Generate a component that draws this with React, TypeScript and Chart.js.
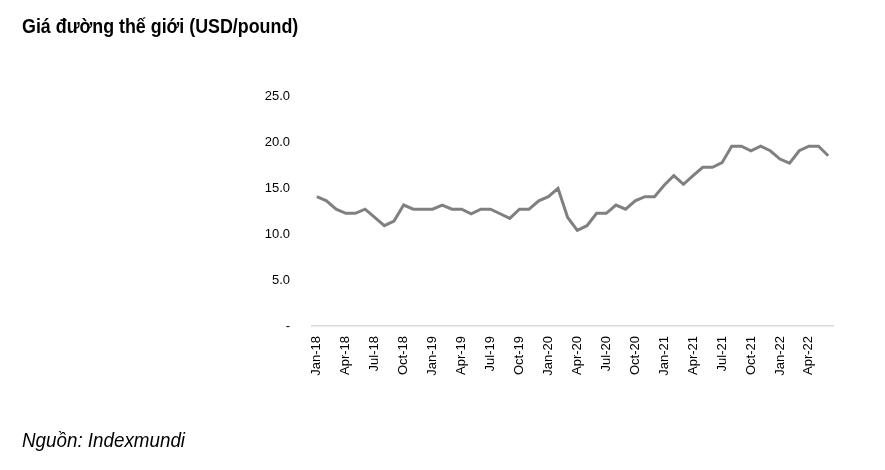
import React, { useEffect, useRef } from "react";
import { Chart, registerables } from "chart.js";

Chart.register(...registerables);

const months = ["Jan", "Feb", "Mar", "Apr", "May", "Jun", "Jul", "Aug", "Sep", "Oct", "Nov", "Dec"];
const years = ["18", "19", "20", "21", "22"];
const categories: string[] = [];
years.forEach((y) => months.forEach((m) => categories.push(`${m}-${y}`)));
const labels = categories.slice(0, 54);

const prices2018 = [14.05, 13.6, 12.7, 12.25, 12.25, 12.7, 11.8, 10.9, 11.4, 13.15, 12.7, 12.7];
const prices2019 = [12.7, 13.15, 12.7, 12.7, 12.2, 12.7, 12.7, 12.2, 11.7, 12.7, 12.7, 13.6];
const prices2020 = [14.05, 14.95, 11.8, 10.4, 10.9, 12.25, 12.25, 13.15, 12.7, 13.6, 14.05, 14.05];
const prices2021 = [15.3, 16.35, 15.4, 16.35, 17.25, 17.25, 17.75, 19.55, 19.55, 19.05, 19.55, 19.05];
const prices2022 = [18.15, 17.7, 19.05, 19.55, 19.55, 18.5];
const prices = [...prices2018, ...prices2019, ...prices2020, ...prices2021, ...prices2022];

const yTicks = [0, 5, 10, 15, 20, 25];

const TITLE = "Giá đường thế giới (USD/pound)";
const SOURCE = "Nguồn: Indexmundi";
const sans = "'Liberation Sans', Arial, sans-serif";

export default function App() {
  const ref = useRef<HTMLCanvasElement | null>(null);

  useEffect(() => {
    if (!ref.current) return;
    const chart = new Chart(ref.current, {
      type: "line",
      data: {
        labels,
        datasets: [
          {
            data: prices,
            borderColor: "#808080",
            borderWidth: 3,
            pointRadius: 0,
            tension: 0,
            fill: false,
          },
        ],
      },
      options: {
        animation: false,
        responsive: false,
        devicePixelRatio: 1,
        layout: { padding: { top: 96, right: 52, left: 0, bottom: 0 } },
        plugins: { legend: { display: false }, tooltip: { enabled: false } },
        scales: {
          x: {
            type: "category",
            offset: true,
            grid: { display: false, drawTicks: false },
            border: { display: true, color: "#d9d9d9", width: 1.5 },
            ticks: {
              autoSkip: false,
              maxRotation: 90,
              minRotation: 90,
              padding: 10,
              color: "#000",
              font: { family: sans, size: 13 },
              callback: (_v: any, i: number) => (i % 3 === 0 ? labels[i] : ""),
            },
            afterFit: (s: any) => {
              s.height = 144;
            },
          },
          y: {
            min: 0,
            max: 25,
            afterBuildTicks: (s: any) => {
              s.ticks = yTicks.map((v) => ({ value: v }));
            },
            grid: { display: false, drawTicks: false },
            border: { display: false },
            ticks: {
              padding: 22,
              color: "#000",
              font: { family: sans, size: 13 },
              callback: (v: any) => (Number(v) === 0 ? "-" : Number(v).toFixed(1)),
            },
            afterFit: (s: any) => {
              s.width = 312;
            },
          },
        },
      },
    });
    return () => chart.destroy();
  }, []);

  return (
    <div style={{ position: "fixed", left: 0, top: 0, width: 885, height: 470, background: "#fff" }}>
      <canvas ref={ref} width={885} height={470} style={{ position: "absolute", left: 0, top: 0, width: 885, height: 470 }} />
      <div
        style={{
          position: "absolute",
          left: 22,
          top: 14,
          fontFamily: sans,
          fontWeight: "bold",
          fontSize: 21,
          color: "#000",
          whiteSpace: "nowrap",
          transform: "scaleX(0.85)",
          transformOrigin: "left top",
        }}
      >
        {TITLE}
      </div>
      <div
        style={{
          position: "absolute",
          left: 22,
          top: 429,
          fontFamily: sans,
          fontStyle: "italic",
          fontSize: 20,
          color: "#000",
          whiteSpace: "nowrap",
          transform: "scaleX(0.94)",
          transformOrigin: "left top",
        }}
      >
        {SOURCE}
      </div>
    </div>
  );
}
